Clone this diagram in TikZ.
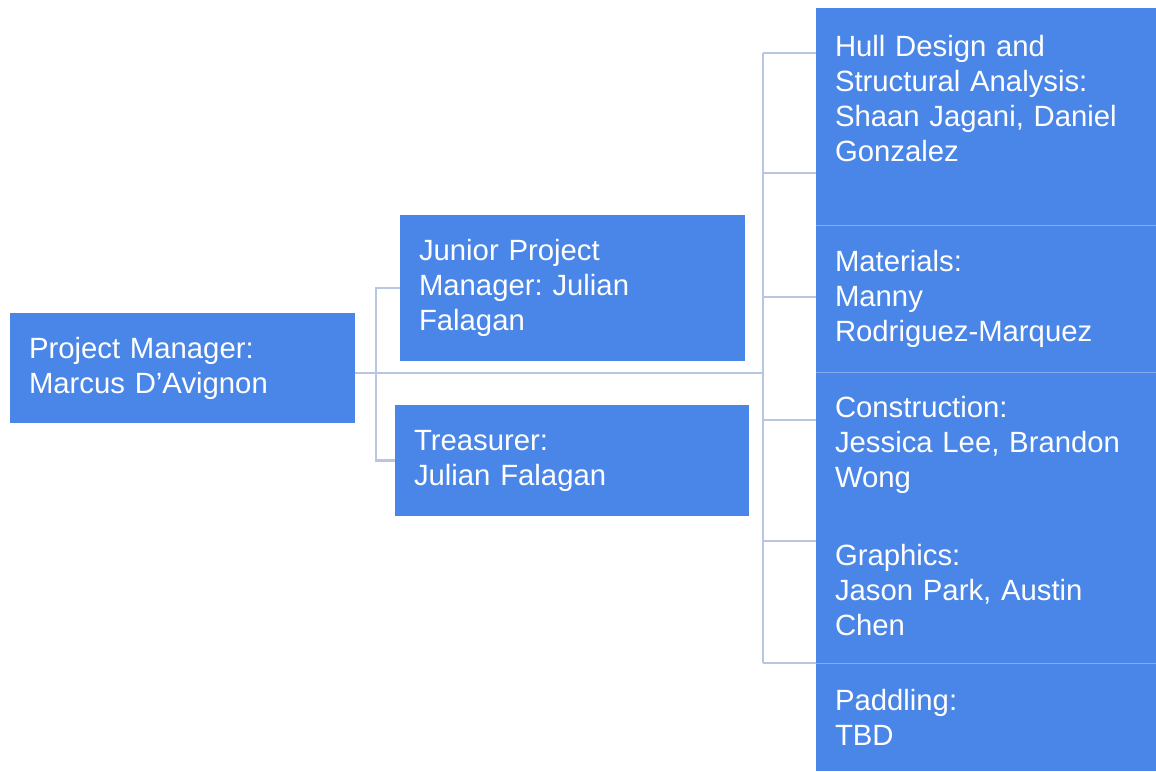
\documentclass[tikz,border=0pt]{standalone}
\usepackage{fontspec}
\setmainfont{Liberation Sans}
\usetikzlibrary{calc}
\pgfdeclarelayer{bg}
\pgfsetlayers{bg,main}
\definecolor{boxblue}{RGB}{74,134,232}
\definecolor{linkc}{RGB}{184,198,226}
\definecolor{sepc}{RGB}{135,172,238}
\frenchspacing
\begin{document}
\begin{tikzpicture}[x=1pt,y=-1pt,
  box/.style={rectangle,fill=boxblue,text=white,draw=none,inner xsep=19pt,inner ysep=0pt,align=left,font=\fontsize{29.3}{35}\selectfont\frenchspacing},
  link/.style={draw=linkc,line width=2.8pt},
  sepline/.style={draw=sepc,line width=1.2pt}]
\useasboundingbox (0,0) rectangle (1156,771);
% left part
\node[box,text width=307pt,minimum height=110pt] (pm) at (182.5,368) {Project Manager:\\Marcus D'Avignon};
\node[box,text width=307pt,minimum height=146pt] (jpm) at (572.5,288) {Junior Project\\Manager: Julian\\Falagan};
\node[box,text width=316pt,minimum height=111pt] (tre) at (572,460.5) {Treasurer:\\Julian Falagan};
% right column
\node[box,text width=302pt,minimum height=217pt] (hull) at (986,116.5) {Hull Design and\\Structural Analysis:\\Shaan Jagani, Daniel\\Gonzalez\rule[-37pt]{0pt}{0pt}};
\node[box,text width=302pt,minimum height=147pt] (mat) at (986,298.5) {Materials:\\Manny\\Rodriguez-Marquez};
\node[box,text width=302pt,minimum height=146pt] (con) at (986,445) {Construction:\\Jessica Lee, Brandon\\Wong};
\node[box,text width=302pt,minimum height=145pt] (gra) at (986,590.5) {Graphics:\\Jason Park, Austin\\Chen};
\node[box,text width=302pt,minimum height=108pt] (pad) at (986,717) {Paddling:\\TBD};
% separators
\draw[sepline] (hull.south west) -- (hull.south east);
\draw[sepline] (mat.south west) -- (mat.south east);
\draw[sepline] (gra.south west) -- (gra.south east);
% connectors
\coordinate (lbus) at (376,373);
\coordinate (rbus) at (763,373);
\coordinate (rtop) at (763,53);
\coordinate (rbot) at (763,663);
\begin{pgfonlayer}{bg}
\fill[white] (0,0) rectangle (1156,771);
\draw[link] (pm.east |- rbus) -- (rbus);
\draw[link] (jpm.west) -| (lbus) |- (tre.west);
\draw[link] (rtop) -- (rbot);
\foreach \yy in {53,173,297,420,541,663}
  \draw[link] (rbus |- 0,\yy) -- (hull.west |- 0,\yy);
\end{pgfonlayer}
\end{tikzpicture}
\end{document}
